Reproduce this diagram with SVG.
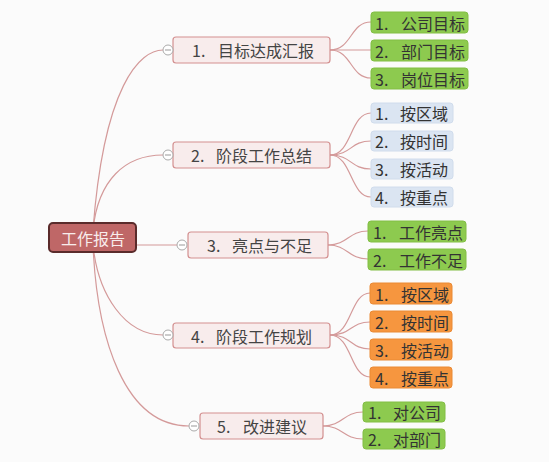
<svg xmlns="http://www.w3.org/2000/svg" width="549" height="462" viewBox="0 0 549 462">
<style>
text{font-family:"Noto Sans CJK SC","Noto Sans",sans-serif;font-size:16px;dominant-baseline:central}
.con path{fill:none;stroke:#d49a9a;stroke-width:1.2}
.n{fill:#f8ecec;stroke:#d39090;stroke-width:1.2}
.nt{fill:#444}
.g{fill:#8dca4f;stroke:#82be45}
.b{fill:#dbe5f2;stroke:#d0dcec}
.o{fill:#f6963f;stroke:#ea8a35}
.ct{fill:#333}
.tog circle{fill:#fff;stroke:#aaa;stroke-width:1}
.tog line{stroke:#999;stroke-width:1}
</style>
<rect width="549" height="462" fill="#fbfbfb"/>
<g class="con">
<path d="M93,230 C104,85 140,50 163,50"/>
<path d="M93,230 C98,180 125,155 163,155"/>
<path d="M136,245 L177,245"/>
<path d="M93,245 C98,295 125,335 163,335"/>
<path d="M93,245 C97,340 125,426 189,426"/>
<path d="M330,50 C352,50 350,22 371,22"/>
<path d="M330,50 C352,50 350,50 371,50"/>
<path d="M330,50 C352,50 350,78 371,78"/>
<path d="M330,155 C352,155 350,113 371,113"/>
<path d="M330,155 C352,155 350,141 371,141"/>
<path d="M330,155 C352,155 350,169 371,169"/>
<path d="M330,155 C352,155 350,197 371,197"/>
<path d="M328,245 C348,245 348,231 368,231"/>
<path d="M328,245 C348,245 348,259 368,259"/>
<path d="M330,335 C352,335 350,293 370,293"/>
<path d="M330,335 C352,335 350,322 370,322"/>
<path d="M330,335 C352,335 350,349 370,349"/>
<path d="M330,335 C352,335 350,377 370,377"/>
<path d="M323,426 C343,426 343,412 363,412"/>
<path d="M323,426 C343,426 343,439 363,439"/>
</g>
<g id="root">
<rect x="49" y="223" width="87" height="29" rx="4" fill="#bf6767" stroke="#5a2b2b" stroke-width="2"/>
<text x="61" y="238" fill="#f8ecec">工作报告</text>
</g>
<g id="n1">
<rect class="n" x="173" y="37" width="157" height="26" rx="3"/>
<text class="nt" x="192" y="50">1.</text><text class="nt" x="218" y="50">目标达成汇报</text>
<g class="tog"><circle cx="168" cy="50" r="5"/><line x1="165" y1="50" x2="171" y2="50"/></g>
</g>
<g id="n1c1"><rect class="g" x="371" y="12" width="97" height="21" rx="3"/><text class="ct" x="375" y="22.5">1.</text><text class="ct" x="401" y="22.5">公司目标</text></g>
<g id="n1c2"><rect class="g" x="371" y="40" width="97" height="21" rx="3"/><text class="ct" x="375" y="50.5">2.</text><text class="ct" x="401" y="50.5">部门目标</text></g>
<g id="n1c3"><rect class="g" x="371" y="68" width="97" height="21" rx="3"/><text class="ct" x="375" y="78.5">3.</text><text class="ct" x="401" y="78.5">岗位目标</text></g>
<g id="n2">
<rect class="n" x="173" y="142" width="157" height="26" rx="3"/>
<text class="nt" x="191" y="155">2.</text><text class="nt" x="216" y="155">阶段工作总结</text>
<g class="tog"><circle cx="168" cy="155" r="5"/><line x1="165" y1="155" x2="171" y2="155"/></g>
</g>
<g id="n2c1"><rect class="b" x="371" y="103" width="82" height="20" rx="3"/><text class="ct" x="375" y="113">1.</text><text class="ct" x="400" y="113">按区域</text></g>
<g id="n2c2"><rect class="b" x="371" y="131" width="82" height="20" rx="3"/><text class="ct" x="375" y="141">2.</text><text class="ct" x="400" y="141">按时间</text></g>
<g id="n2c3"><rect class="b" x="371" y="159" width="82" height="20" rx="3"/><text class="ct" x="375" y="169">3.</text><text class="ct" x="400" y="169">按活动</text></g>
<g id="n2c4"><rect class="b" x="371" y="187" width="82" height="20" rx="3"/><text class="ct" x="375" y="197">4.</text><text class="ct" x="400" y="197">按重点</text></g>
<g id="n3">
<rect class="n" x="188" y="232" width="140" height="26" rx="3"/>
<text class="nt" x="207" y="245">3.</text><text class="nt" x="232" y="245">亮点与不足</text>
<g class="tog"><circle cx="182" cy="245" r="5"/><line x1="179" y1="245" x2="185" y2="245"/></g>
</g>
<g id="n3c1"><rect class="g" x="368" y="221" width="98" height="21" rx="3"/><text class="ct" x="373" y="231.5">1.</text><text class="ct" x="399" y="231.5">工作亮点</text></g>
<g id="n3c2"><rect class="g" x="368" y="249" width="98" height="21" rx="3"/><text class="ct" x="373" y="259.5">2.</text><text class="ct" x="399" y="259.5">工作不足</text></g>
<g id="n4">
<rect class="n" x="173" y="323" width="157" height="25" rx="3"/>
<text class="nt" x="191" y="335.5">4.</text><text class="nt" x="216" y="335.5">阶段工作规划</text>
<g class="tog"><circle cx="168" cy="335" r="5"/><line x1="165" y1="335" x2="171" y2="335"/></g>
</g>
<g id="n4c1"><rect class="o" x="370" y="283" width="82" height="21" rx="3"/><text class="ct" x="375" y="293.5">1.</text><text class="ct" x="401" y="293.5">按区域</text></g>
<g id="n4c2"><rect class="o" x="370" y="311" width="82" height="21" rx="3"/><text class="ct" x="375" y="321.5">2.</text><text class="ct" x="401" y="321.5">按时间</text></g>
<g id="n4c3"><rect class="o" x="370" y="339" width="82" height="21" rx="3"/><text class="ct" x="375" y="349.5">3.</text><text class="ct" x="401" y="349.5">按活动</text></g>
<g id="n4c4"><rect class="o" x="370" y="367" width="82" height="21" rx="3"/><text class="ct" x="375" y="377.5">4.</text><text class="ct" x="401" y="377.5">按重点</text></g>
<g id="n5">
<rect class="n" x="200" y="413" width="123" height="26" rx="3"/>
<text class="nt" x="217" y="426">5.</text><text class="nt" x="243" y="426">改进建议</text>
<g class="tog"><circle cx="194" cy="426" r="5"/><line x1="191" y1="426" x2="197" y2="426"/></g>
</g>
<g id="n5c1"><rect class="g" x="363" y="402" width="82" height="20" rx="3"/><text class="ct" x="368" y="412">1.</text><text class="ct" x="393" y="412">对公司</text></g>
<g id="n5c2"><rect class="g" x="363" y="429" width="82" height="20" rx="3"/><text class="ct" x="368" y="439">2.</text><text class="ct" x="393" y="439">对部门</text></g>
</svg>
